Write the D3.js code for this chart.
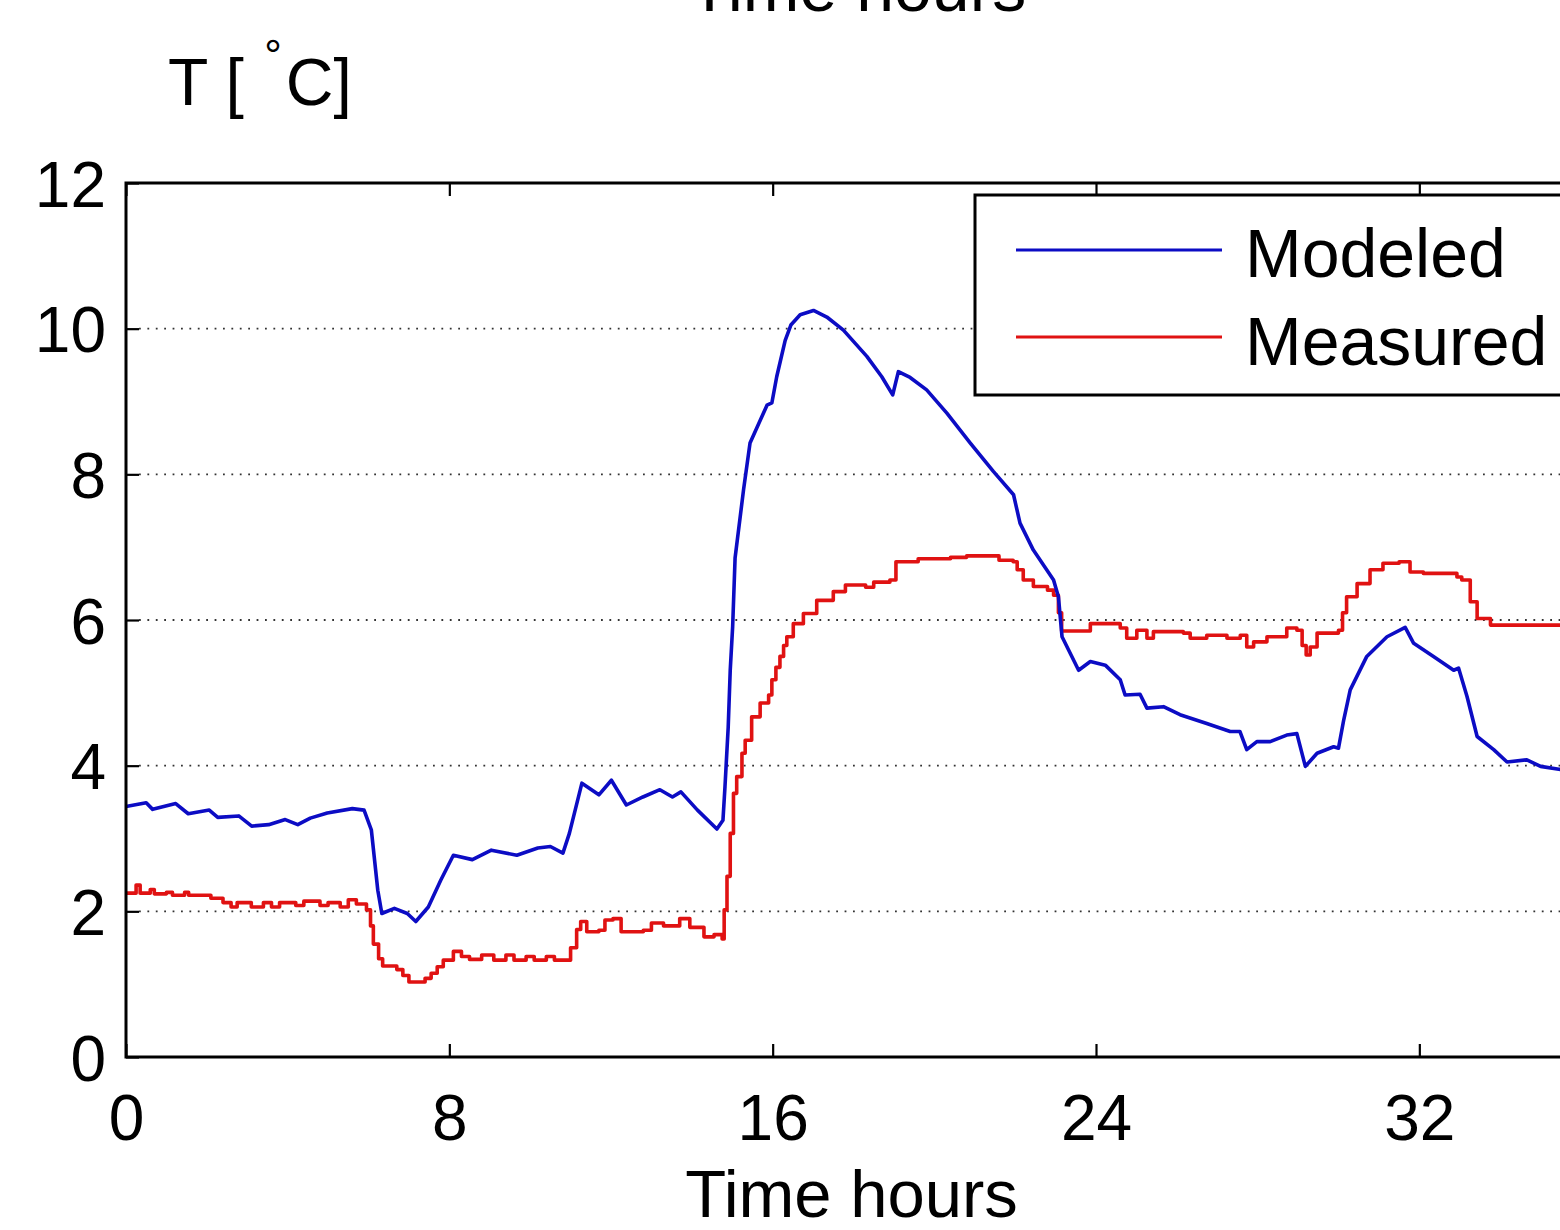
<!DOCTYPE html>
<html>
<head>
<meta charset="utf-8">
<script src="https://cdnjs.cloudflare.com/ajax/libs/d3/7.8.5/d3.min.js"></script>
<style>
  body { margin: 0; background: white; }
  svg { display: block; font-family: "Liberation Sans", Arial, sans-serif; }
</style>
</head>
<body>
<svg id="graph"></svg>
<script>
//Chart data: hours and temperatures
var xTicks = [0, 8, 16, 24, 32];
var yTicks = [0, 2, 4, 6, 8, 10, 12];
var gridValues = [2, 4, 6, 8, 10];
var seriesNames = ["Modeled", "Measured"];

var modeledHours = [0, 0.5, 0.66, 1.23, 1.54, 2.06, 2.27, 2.79, 3.11, 3.53, 3.94, 4.25, 4.56, 4.98, 5.6, 5.89,
  6.07, 6.23, 6.33, 6.64, 6.96, 7.17, 7.48, 7.79, 8.1, 8.57, 9.04, 9.67, 10.19, 10.5, 10.81, 10.97,
  11.28, 11.7, 12.01, 12.38, 12.79, 13.21, 13.52, 13.73, 14.14, 14.62, 14.77, 14.82, 14.9, 14.95, 15.01, 15.07,
  15.28, 15.44, 15.86, 15.98, 16.1, 16.31, 16.45, 16.68, 17.01, 17.34, 17.75, 18.33, 18.7, 18.97, 19.11, 19.4,
  19.81, 20.31, 20.89, 21.46, 21.96, 22.12, 22.45, 22.95, 23.07, 23.16, 23.57, 23.86, 24.23, 24.6,
  24.72, 25.09, 25.26, 25.67, 26.08, 26.74, 27.32, 27.56, 27.73, 27.98, 28.31, 28.72, 28.97, 29.18,
  29.47, 29.88, 30.0, 30.13, 30.29, 30.7, 31.2, 31.65, 31.86, 32.35, 32.85, 32.97, 33.18, 33.43,
  33.84, 34.17, 34.66, 35.0, 35.45, 36];
var modeledTemp = [3.44, 3.49, 3.4, 3.48, 3.34, 3.39, 3.29, 3.31, 3.17, 3.19, 3.26, 3.19, 3.28, 3.35, 3.41, 3.39,
  3.12, 2.29, 1.97, 2.04, 1.97, 1.86, 2.06, 2.43, 2.77, 2.71, 2.84, 2.77, 2.87, 2.89, 2.8, 3.07,
  3.76, 3.6, 3.8, 3.46, 3.57, 3.67, 3.57, 3.64, 3.39, 3.13, 3.25, 3.71, 4.53, 5.31, 5.91, 6.85,
  7.79, 8.43, 8.95, 8.98, 9.34, 9.84, 10.05, 10.19, 10.25, 10.16, 9.98, 9.62, 9.34, 9.09, 9.41, 9.33,
  9.16, 8.84, 8.43, 8.04, 7.72, 7.33, 6.96, 6.55, 6.32, 5.77, 5.31, 5.43, 5.38, 5.18,
  4.97, 4.98, 4.79, 4.81, 4.7, 4.58, 4.47, 4.47, 4.22, 4.33, 4.33, 4.42, 4.44, 3.99,
  4.17, 4.26, 4.24, 4.63, 5.04, 5.5, 5.77, 5.9, 5.68, 5.5, 5.31, 5.34, 4.95, 4.4,
  4.22, 4.05, 4.08, 3.99, 3.95, 3.92];

var measuredHours = [0, 0.25, 0.35, 0.6, 0.7, 1.0, 1.15, 1.45, 1.55, 2.0, 2.1, 2.4, 2.6, 2.75, 3.1, 3.4,
  3.6, 3.8, 4.2, 4.4, 4.8, 5.0, 5.3, 5.5, 5.7, 5.95, 6.05, 6.12, 6.25, 6.35, 6.7, 6.85, 7.0, 7.4,
  7.55, 7.7, 7.85, 8.1, 8.3, 8.5, 8.8, 9.1, 9.4, 9.6, 9.9, 10.1, 10.4, 10.6, 10.85, 11.0, 11.15,
  11.25, 11.4, 11.7, 11.85, 12.05, 12.25, 12.8, 13.0, 13.3, 13.7, 13.95, 14.3, 14.55, 14.75, 14.8,
  14.87, 14.95, 15.03, 15.11, 15.24, 15.32, 15.48, 15.69, 15.9, 15.98, 16.08, 16.18, 16.27, 16.35,
  16.51, 16.76, 17.09, 17.5,
  17.8, 18.3, 18.5, 18.9, 19.05, 19.6, 20.4, 20.8, 21.6, 21.95, 22.05, 22.2, 22.45, 22.8, 22.95,
  23.07, 23.15, 23.7, 23.86, 24.3, 24.6, 24.76, 25.01, 25.26, 25.42, 26.16, 26.33, 26.74, 27.24,
  27.57, 27.73, 27.9, 28.23, 28.72, 28.97, 29.1, 29.2, 29.3, 29.47, 29.9, 30.0, 30.1, 30.2, 30.46,
  30.78, 31.1, 31.5, 31.77, 32.1, 32.93, 33.05, 33.26, 33.43, 33.76, 34.6, 35.5, 36];
var measuredTemp = [2.25, 2.36, 2.25, 2.3, 2.24, 2.26, 2.22, 2.26, 2.22, 2.22, 2.18, 2.12, 2.06, 2.12, 2.06, 2.12,
  2.06, 2.12, 2.08, 2.14, 2.08, 2.12, 2.06, 2.16, 2.1, 2.02, 1.8, 1.55, 1.35, 1.25, 1.2, 1.12, 1.03, 1.08,
  1.15, 1.24, 1.33, 1.45, 1.38, 1.34, 1.4, 1.33, 1.4, 1.33, 1.38, 1.33, 1.38, 1.33, 1.33, 1.5, 1.75,
  1.86, 1.72, 1.74, 1.88, 1.9, 1.72, 1.74, 1.84, 1.8, 1.9, 1.78, 1.65, 1.68, 1.62, 2.02,
  2.48, 3.07, 3.62, 3.85, 4.17, 4.35, 4.67, 4.86, 4.97, 5.18, 5.35, 5.5, 5.65, 5.77,
  5.95, 6.09, 6.27, 6.39,
  6.48, 6.45, 6.52, 6.55, 6.8, 6.84, 6.86, 6.88, 6.82, 6.8, 6.69, 6.55, 6.46, 6.41, 6.34,
  6.1, 5.85, 5.85, 5.95, 5.95, 5.89, 5.75, 5.86, 5.75, 5.84, 5.82, 5.75, 5.79, 5.75,
  5.79, 5.63, 5.7, 5.77, 5.89, 5.86, 5.65, 5.52, 5.63, 5.82, 5.82, 5.86, 6.1, 6.32, 6.5,
  6.69, 6.78, 6.8, 6.66, 6.64, 6.59, 6.55, 6.25, 6.02, 5.93, 5.93, 5.93, 5.93];

//Graph settings
var screen = { width: 1560, height: 1230 };
var plot = { left: 126, top: 183, right: 1581, bottom: 1057 };
var colors = { Modeled: "#0c0cc4", Measured: "#e01212" };

var svg = d3.select("#graph")
  .attr("width", screen.width)
  .attr("height", screen.height);

var xScale = d3.scaleLinear()
  .domain([0, 36])
  .range([plot.left, plot.right]);

var yScale = d3.scaleLinear()
  .domain([0, 12])
  .range([plot.bottom, plot.top]);

//dotted horizontal grid
svg.append("g")
  .selectAll("line")
  .data(gridValues)
  .enter()
  .append("line")
  .attr("x1", plot.left + 13)
  .attr("x2", plot.right)
  .attr("y1", function(d) { return yScale(d); })
  .attr("y2", function(d) { return yScale(d); })
  .style("stroke", "#333")
  .style("stroke-width", 1.8)
  .style("stroke-dasharray", "1.8,6.6");

//series lines
var makeSeries = function(hours, temps) {
  return hours.map(function(h, i) { return { h: h, t: temps[i] }; });
};

var line = d3.line()
  .x(function(d) { return xScale(d.h); })
  .y(function(d) { return yScale(d.t); });

var stepLine = d3.line()
  .curve(d3.curveStepAfter)
  .x(function(d) { return xScale(d.h); })
  .y(function(d) { return yScale(d.t); });

svg.append("path")
  .datum(makeSeries(measuredHours, measuredTemp))
  .attr("d", stepLine)
  .attr("fill", "none")
  .style("stroke", colors.Measured)
  .style("stroke-width", 3.6)
  .style("stroke-linejoin", "round");

svg.append("path")
  .datum(makeSeries(modeledHours, modeledTemp))
  .attr("d", line)
  .attr("fill", "none")
  .style("stroke", colors.Modeled)
  .style("stroke-width", 3.6)
  .style("stroke-linejoin", "round");

//axes, ticks pointing inward
var xAxis = d3.axisBottom(xScale).tickValues(xTicks).tickSizeInner(-13).tickSizeOuter(0).tickPadding(38);
var yAxis = d3.axisLeft(yScale).tickValues(yTicks).tickSizeInner(-13).tickSizeOuter(0).tickPadding(20);
var xTopAxis = d3.axisTop(xScale).tickValues(xTicks).tickSizeInner(-13).tickSizeOuter(0).tickFormat("");

var xAxisG = svg.append("g")
  .attr("transform", "translate(0," + plot.bottom + ")")
  .call(xAxis);

var yAxisG = svg.append("g")
  .attr("transform", "translate(" + plot.left + ",0)")
  .call(yAxis);

var xTopG = svg.append("g")
  .attr("transform", "translate(0," + plot.top + ")")
  .call(xTopAxis);

[xAxisG, yAxisG, xTopG].forEach(function(g) {
  g.select(".domain").remove();
  g.selectAll(".tick line").style("stroke", "black").style("stroke-width", 2.2);
  g.selectAll(".tick text")
    .style("font-family", "'Liberation Sans', Arial, sans-serif")
    .style("font-size", "64px")
    .style("fill", "black");
});
yAxisG.selectAll(".tick text").attr("dy", "0.36em");

//plot frame
svg.append("rect")
  .attr("x", plot.left)
  .attr("y", plot.top)
  .attr("width", plot.right - plot.left)
  .attr("height", plot.bottom - plot.top)
  .attr("fill", "none")
  .style("stroke", "black")
  .style("stroke-width", 3);

//axis labels (the title above is cut by the top edge, as in the figure)
svg.append("text")
  .attr("x", (plot.left + plot.right) / 2 - 2)
  .attr("y", 1217)
  .attr("text-anchor", "middle")
  .style("font-size", "67px")
  .text("Time hours");

svg.append("text")
  .attr("x", (plot.left + plot.right) / 2 + 4)
  .attr("y", 11)
  .attr("text-anchor", "middle")
  .style("font-size", "68px")
  .text("Time hours");

var yLabel = svg.append("text")
  .attr("x", 168)
  .attr("y", 105)
  .style("font-size", "66px");
yLabel.append("tspan").text("T [ ");
yLabel.append("tspan").attr("dy", -34).attr("dx", 2).style("font-size", "44px").text("°");
yLabel.append("tspan").attr("dy", 34).attr("dx", 4).text("C]");

//legend
var legend = svg.append("g")
  .attr("transform", "translate(975,195)");

legend.append("rect")
  .attr("x", 0)
  .attr("y", 0)
  .attr("width", 620)
  .attr("height", 200)
  .attr("fill", "white")
  .style("stroke", "black")
  .style("stroke-width", 3);

var legendLines = legend.selectAll("g.legend-line")
  .data(seriesNames)
  .enter()
  .append("g")
  .classed("legend-line", true);

legendLines.append("line")
  .attr("x1", 41)
  .attr("x2", 247)
  .attr("y1", function(d, i) { return 55 + i * 87; })
  .attr("y2", function(d, i) { return 55 + i * 87; })
  .style("stroke", function(d) { return colors[d]; })
  .style("stroke-width", 3.2);

legendLines.append("text")
  .attr("x", 270)
  .attr("y", function(d, i) { return 82 + i * 88; })
  .style("font-size", "68px")
  .text(function(d) { return d; });
</script>
</body>
</html>
